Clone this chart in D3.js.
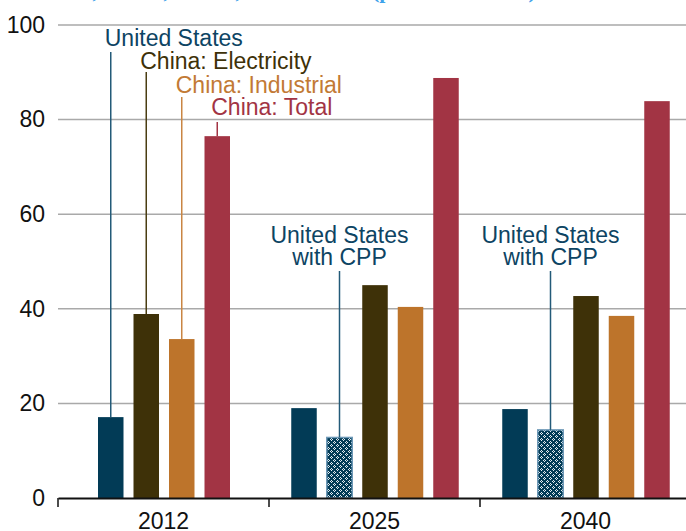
<!DOCTYPE html>
<html>
<head>
<meta charset="utf-8">
<script src="https://cdn.jsdelivr.net/npm/d3@7"></script>
<style>
  html, body { margin: 0; padding: 0; background: #fff; }
  svg { display: block; font-family: "Liberation Sans", Arial, sans-serif; }
</style>
</head>
<body>
<svg id="chart" width="686" height="531"></svg>
<script>
// ---- data ----
const years = ["2012", "2025", "2040"];
const seriesNames = ["United States", "United States with CPP", "China: Electricity", "China: Industrial", "China: Total"];
const unitedStates = [17.1, 19.0, 18.8];
const unitedStatesCPP = [null, 12.8, 14.4];
const chinaElectricity = [38.9, 45.0, 42.7];
const chinaIndustrial = [33.6, 40.4, 38.5];
const chinaTotal = [76.5, 88.8, 83.9];
const yTicks = [0, 20, 40, 60, 80, 100];

const seriesValues = [unitedStates, unitedStatesCPP, chinaElectricity, chinaIndustrial, chinaTotal];
const colors = ["#023b56", "url(#cpp)", "#3e3108", "#bd742b", "#a23444"];
const lineColors = ["#235a78", "#235a78", "#4a3d12", "#c98543", "#a23444"];
const textColors = ["#0d4463", "#0d4463", "#3e3108", "#c27a35", "#a23444"];

// ---- layout ----
const svg = d3.select("#chart");
const x = d3.scaleBand().domain(years).range([58, 691]).paddingInner(0).paddingOuter(0);
const y = d3.scaleLinear().domain([0, 100]).range([498, 25]);
const step = 35.5, barW = 25.5;

// pattern for CPP bars
const defs = svg.append("defs");
const pat = defs.append("pattern").attr("id", "cpp").attr("patternUnits", "userSpaceOnUse")
  .attr("width", 6).attr("height", 6);
pat.append("rect").attr("width", 6).attr("height", 6).attr("fill", "#023b56");
[[1,0],[0,1],[2,1],[1,2],[4,3],[3,4],[5,4],[4,5]].forEach(([px, py]) =>
  pat.append("rect").attr("x", px).attr("y", py).attr("width", 1).attr("height", 1).attr("fill", "#e6eef3"));

// title (cut off at top of the picture, as in the reference)
const title = svg.append("text")
  .attr("y", -2)
  .attr("font-family", "'Liberation Serif', 'DejaVu Serif', serif")
  .attr("font-weight", "bold").attr("font-size", 22).attr("fill", "#3fa2ea")
  .attr("text-anchor", "end");
[["CO2 Emissions,", 98], [" 2012,", 169], [" 2025,", 241], [" and 2040", 372]].forEach(([t, px]) =>
  title.append("tspan").attr("x", px).text(t));
svg.append("text").attr("x", 372).attr("y", -2)
  .attr("font-family", "'Liberation Serif', 'DejaVu Serif', serif")
  .attr("font-weight", "bold").attr("font-size", 22).attr("fill", "#3fa2ea")
  .text("(per cent of 2005)");

// gridlines
svg.append("g").selectAll("line").data(yTicks.filter(d => d > 0)).join("line")
  .attr("x1", 58).attr("x2", 686)
  .attr("y1", d => y(d)).attr("y2", d => y(d))
  .attr("stroke", "#a9a9a9").attr("stroke-width", 1.5);

// y axis labels
const yAxis = d3.axisLeft(y).tickValues(yTicks).tickSize(0).tickPadding(13);
svg.append("g").attr("transform", "translate(58,0)").call(yAxis)
  .call(g => g.select(".domain").remove())
  .call(g => g.selectAll("text").attr("font-size", 23).attr("fill", "#111")
    .attr("font-family", "'Liberation Sans', Arial, sans-serif"));

// bars
const bars = [];
years.forEach((yr, i) => {
  const present = seriesValues.map((s, k) => ({ k, v: s[i] })).filter(d => d.v != null);
  const n = present.length;
  const span = n * step - (step - barW);
  const start = x(yr) + x.bandwidth() / 2 + 0.5 - span / 2;
  present.forEach((d, j) => bars.push({ year: yr, i, k: d.k, v: d.v, x0: start + j * step }));
});

svg.append("g").selectAll("rect").data(bars).join("rect")
  .attr("x", d => d.x0).attr("width", barW)
  .attr("y", d => y(d.v)).attr("height", d => y(0) - y(d.v))
  .attr("fill", d => colors[d.k])
  .attr("stroke", d => d.k === 1 ? "#6f9ab8" : "none")
  .attr("stroke-width", d => d.k === 1 ? 1.5 : 0);

// x axis
const xAxis = d3.axisBottom(x).tickSize(0).tickPadding(15);
const gx = svg.append("g").attr("transform", "translate(0,498)").call(xAxis);
gx.select(".domain").attr("stroke", "#111").attr("stroke-width", 2);
gx.selectAll("text").attr("font-size", 23).attr("fill", "#111")
  .attr("font-family", "'Liberation Sans', Arial, sans-serif");
gx.append("g").selectAll("line").data(years).join("line")
  .attr("x1", d => Math.round(x(d))).attr("x2", d => Math.round(x(d)))
  .attr("y1", 0).attr("y2", 9).attr("stroke", "#111").attr("stroke-width", 1.5);

// annotations: 2012 labels
const ann = svg.append("g").attr("font-size", 23);
const lab2012 = [
  { k: 0, base: 46, top: 52 },
  { k: 2, base: 69, top: 72 },
  { k: 3, base: 92.5, top: 97 },
  { k: 4, base: 115, top: 122 }
];
lab2012.forEach(l => {
  const b = bars.find(d => d.year === "2012" && d.k === l.k);
  const cx = b.x0 + barW / 2;
  ann.append("line").attr("x1", cx).attr("x2", cx).attr("y1", l.top).attr("y2", y(b.v))
    .attr("stroke", lineColors[l.k]).attr("stroke-width", 1.5);
  ann.append("text").attr("x", cx - 6).attr("y", l.base).attr("fill", textColors[l.k])
    .text(seriesNames[l.k]);
});

// annotations: CPP labels
bars.filter(d => d.k === 1).forEach(b => {
  const cx = b.x0 + barW / 2;
  ann.append("line").attr("x1", cx).attr("x2", cx).attr("y1", 271).attr("y2", y(b.v))
    .attr("stroke", lineColors[1]).attr("stroke-width", 1.5);
  const t = ann.append("text").attr("text-anchor", "middle").attr("fill", textColors[1]);
  t.append("tspan").attr("x", cx).attr("y", 243).text("United States");
  t.append("tspan").attr("x", cx).attr("y", 265).text("with CPP");
});
</script>
</body>
</html>
